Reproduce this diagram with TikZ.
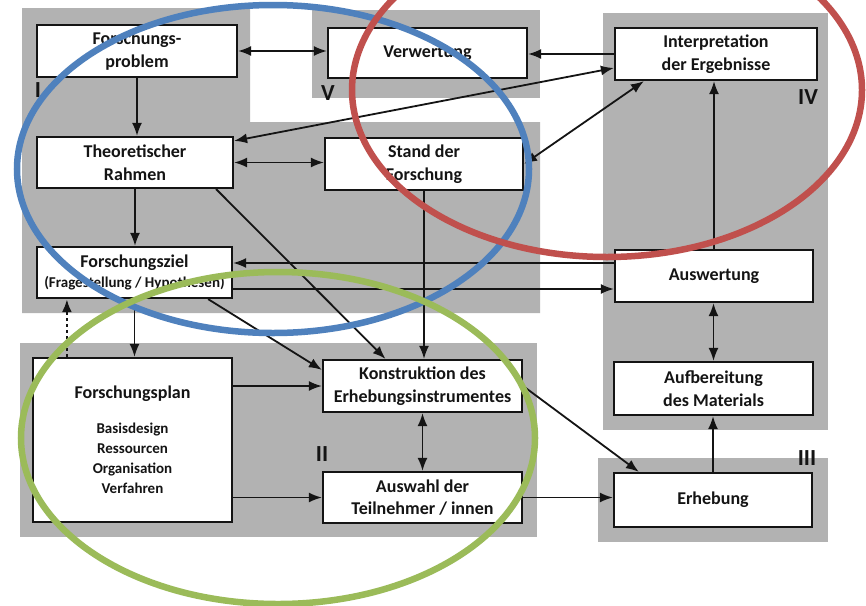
\documentclass[tikz,border=0pt]{standalone}
\usepackage{fontspec}
\setmainfont{Carlito}
\usetikzlibrary{arrows.meta,calc}
\definecolor{panelgray}{RGB}{178,178,178}
\definecolor{ink}{RGB}{20,20,20}
\definecolor{ovblue}{RGB}{79,129,189}
\definecolor{ovred}{RGB}{192,80,77}
\definecolor{ovgreen}{RGB}{155,187,89}
\begin{document}
\begin{tikzpicture}[x=1pt,y=-1pt,
  box/.style={draw=ink,line width=2.2pt,fill=white,align=center,inner sep=2pt,
    font=\bfseries\fontsize{18}{22.5}\selectfont,text=ink},
  txt/.style={align=center,inner sep=0pt,text=ink},
  arr/.style={draw=ink,line width=1.8pt,-{Latex[length=13pt,width=10pt]}},
  dbl/.style={draw=ink,line width=1.8pt,{Latex[length=13pt,width=10pt]}-{Latex[length=13pt,width=10pt]}},
  lbl/.style={font=\bfseries\fontsize{23}{23}\selectfont,text=ink,inner sep=0pt},
  ov/.style={line width=6.5pt}]
\useasboundingbox (0,0) rectangle (866,605);
\clip (0,0) rectangle (866,605);
\fill[white] (0,0) rectangle (866,605);

% panels
\fill[panelgray] (22,8) -- (250,8) -- (250,122) -- (540,122) -- (540,313) -- (22,313) -- cycle;
\fill[panelgray] (312,10) rectangle (540,98);
\fill[panelgray] (20,343) rectangle (537,537);
\fill[panelgray] (603,13) rectangle (828,430);
\fill[panelgray] (598,458) rectangle (828,542);

% panel labels
\node[lbl] (lI) at (38,90) {I};
\node[lbl] (lV) at (328,93) {V};
\node[lbl] (lIV) at (808,97) {IV};
\node[lbl] (lIII) at (807,458) {III};
\node[lbl] (lII) at (322,454) {II};

% boxes
\node[box,minimum width=200pt,minimum height=52pt] (fp) at (137,51) {Forschungs-\\problem};
\node[box,minimum width=199pt,minimum height=50pt] (vw) at (427.5,53) {Verwertung};
\node[box,minimum width=202pt,minimum height=52pt] (ie) at (716,54) {Interpretation\\der Ergebnisse};
\node[box,minimum width=196pt,minimum height=51pt] (tr) at (135,162.5) {Theoretischer\\Rahmen};
\node[box,minimum width=198pt,minimum height=52pt] (sf) at (424,164) {Stand der\\Forschung};
\node[box,minimum width=195pt,minimum height=51pt] (fz) at (134.5,272.5) {Forschungsziel\\[-3pt]{\fontsize{15}{18}\selectfont (Fragestellung / Hypothesen)}};
\node[box,minimum width=198pt,minimum height=52pt] (aw) at (714,276) {Auswertung};
\node[box,minimum width=199pt,minimum height=164pt] (fpl) at (132.5,440) {};
\node[txt,font=\bfseries\fontsize{18}{22}\selectfont] (fplt) at (132.5,394) {Forschungsplan};
\node[txt,font=\bfseries\fontsize{15}{20}\selectfont] (fpls) at (132.5,458) {Basisdesign\\Ressourcen\\Organisation\\Verfahren};
\node[box,minimum width=199pt,minimum height=52pt] (ki) at (422.5,386) {Konstruktion des\\Erhebungsinstrumentes};
\node[box,minimum width=199pt,minimum height=51pt] (at) at (422.5,497.5) {Auswahl der\\Teilnehmer / innen};
\node[box,minimum width=199pt,minimum height=53pt] (am) at (713.5,388.5) {Aufbereitung\\des Materials};
\node[box,minimum width=198pt,minimum height=54pt] (eh) at (713,500) {Erhebung};

% connectors
\draw[dbl] (fp.east) -- (fp.east -| vw.west);
\draw[arr] (fp.south) -- (fp.south |- tr.north);
\draw[arr] (ie.west) -- (ie.west -| vw.east);
\draw[dbl] ([yshift=-5pt]tr.north east) -- ([yshift=-14pt]ie.west);
\draw[dbl] (sf.east) -- ([xshift=30pt]ie.south west);
\draw[dbl] (tr.east) -- (tr.east -| sf.west);
\draw[arr] (tr.south) -- (tr.south |- fz.north);
\draw[arr] ([xshift=-18pt]tr.south east) -- ([xshift=-37pt]ki.north);
\draw[arr] ([xshift=-25pt]fz.south east) -- ([yshift=-11pt]ki.north west);
\draw[arr] (sf.south) -- (sf.south |- ki.north);
\draw[arr] ([yshift=13pt]aw.west) -- ([yshift=13pt]aw.west -| fz.east);
\draw[arr] ([yshift=-13pt]aw.west -| fz.east) -- ([yshift=-13pt]aw.west);
\draw[arr,line width=2.8pt,dash pattern=on 3pt off 3pt] ([xshift=35pt]fpl.north west) -- ([xshift=35pt]fpl.north west |- fz.south);
\draw[arr] (fz.south) -- (fz.south |- fpl.north);
\draw[arr] (ki.west -| fpl.east) -- (ki.west);
\draw[arr] (at.west -| fpl.east) -- (at.west);
\draw[dbl] (ki.south) -- (at.north);
\draw[arr] (ki.east) -- ([xshift=26pt]eh.north west);
\draw[arr] (at.east) -- (at.east -| eh.west);
\draw[arr] (eh.north) -- (eh.north |- am.south);
\draw[dbl] (am.north) -- (am.north |- aw.south);
\draw[arr] (aw.north) -- (aw.north |- ie.south);

% overlay ellipses
\draw[ovblue,ov] (273,169) ellipse [x radius=256pt, y radius=164pt];
\draw[ovred,ov] (607,90) ellipse [x radius=255pt, y radius=167pt];
\draw[ovgreen,ov] (278,438) ellipse [x radius=257pt, y radius=166pt];
\end{tikzpicture}
\end{document}
